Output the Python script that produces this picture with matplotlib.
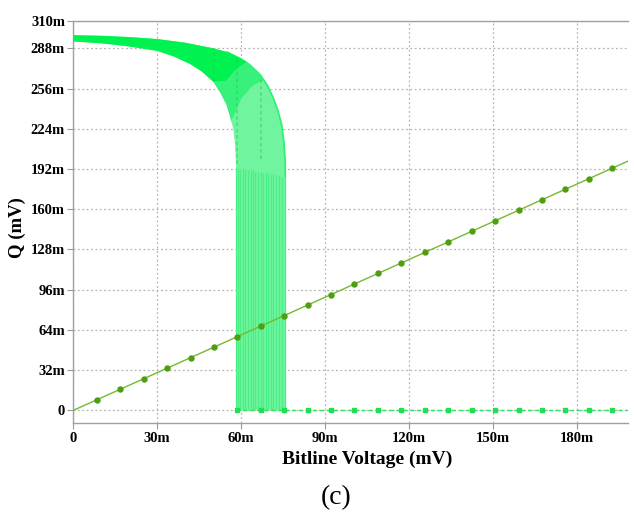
import numpy as np
import matplotlib.pyplot as plt

# all values in mV (labels use the "m" suffix like the simulator)
x_ticks = [0, 30, 60, 90, 120, 150, 180]
y_ticks = [0, 32, 64, 96, 128, 160, 192, 224, 256, 288, 310]

# diagonal sweep Q = Vbl, markers every ~8.4 mV
diag_v = [0, 8.4, 16.8, 25.1, 33.5, 41.9, 50.3, 58.6, 67.0, 75.4, 83.8, 92.1,
          100.5, 108.9, 117.3, 125.6, 134.0, 142.4, 150.8, 159.2, 167.5, 175.9,
          184.3, 192.7]
diag_q = diag_v

# flipped cells sitting at 0 V
zero_v = [58.6, 67.0, 75.4, 83.8, 92.1, 100.5, 108.9, 117.3, 125.6, 134.0,
          142.4, 150.8, 159.2, 167.5, 175.9, 184.3, 192.7]

# Monte Carlo envelope
upper_v = [0, 10, 20, 30, 40, 49, 55, 59.6, 63, 66.8, 69.5, 71.5, 73.2, 74.5,
           75.3, 75.7, 75.8]
upper_q = [298.5, 298, 297, 295.4, 292.5, 288.5, 285, 280, 275, 267, 258, 248.5,
           238, 227, 213, 200, 186]
lower_v = [0, 10, 20, 30, 36, 41.8, 46, 50, 52.5, 54.8, 56, 57.2, 57.8, 58.1, 58.2]
lower_q = [293.5, 292, 289.5, 286, 281.5, 275.5, 269.5, 261.6, 253, 243, 234, 224,
           212, 200, 193]

# densely packed (saturated) part of the band
dense_v = [0, 10, 20, 30, 40, 49, 55, 59.6, 62, 58, 54.5, 50, 46, 41.8, 36, 30,
           20, 10, 0]
dense_q = [298.5, 298, 297, 295.4, 292.5, 288.5, 285, 280, 277.5, 271, 262,
           261.6, 269.5, 275.5, 281.5, 286, 289.5, 292, 293.5]

# half-packed transition zone
mid_v = [49, 55, 59.6, 63, 66.8, 68, 64, 60, 56.5, 56, 54.8, 52.5, 50, 46]
mid_q = [288.5, 285, 280, 275, 267, 263, 258, 248, 230, 234, 243, 253, 261.6, 269.5]

# switching points of the individual runs
drop_v = [58.2, 58.9, 59.6, 60.6, 61.4, 62.3, 63.4, 64.2, 65.0, 66.1, 67.0,
          67.8, 68.9, 69.7, 70.6, 71.5, 72.6, 73.5, 74.5, 75.7]
drop_top = [193, 193, 192, 192, 192, 191, 191, 191, 190, 190, 190, 189, 189,
            189, 188, 188, 187, 187, 186, 186]

# stacked markers show up as darker streaks
streak_v = [50.3, 58.6, 67.0]
streak_lo = [262, 196, 200]
streak_hi = [288, 281, 266]

plt.rcParams['font.family'] = ['Liberation Serif', 'DejaVu Serif']

fig = plt.figure(figsize=(6.34, 5.15), dpi=100)
ax = fig.add_axes([73.3 / 634, (515 - 423.3) / 515, (628 - 73.3) / 634, (423.3 - 20.7) / 515])

# band
poly_v = upper_v + [75.8, 58.2] + lower_v[::-1]
poly_q = upper_q + [0, 0] + lower_q[::-1]
ax.fill(poly_v, poly_q, color='#70f49f', lw=0, zorder=2)
ax.vlines(drop_v, 0, drop_top, color='#4cef86', lw=0.9, zorder=3)
ax.plot(upper_v[6:], upper_q[6:], color='#30f074', lw=1.3, zorder=3)
ax.fill(mid_v, mid_q, color='#38f17a', lw=0, zorder=3)
ax.fill(dense_v, dense_q, color='#00f250', lw=0, zorder=3)
ax.vlines(streak_v, streak_lo, streak_hi, color='#18d24c', lw=1.3, alpha=0.45,
          linestyles=(0, (2, 1.5)), zorder=4)

# zero line
ax.plot([58.2, 200], [0, 0], color='#2ee35e', lw=1.0, ls=(0, (3, 2)), zorder=4)
ax.plot(zero_v, [0] * len(zero_v), ls='none', marker='s', ms=3, color='#22dd55', zorder=5)

# diagonal
ax.plot([0, 200], [0, 200], color='#74ba30', lw=1.0, zorder=5)
ax.plot(diag_v[1:], diag_q[1:], ls='none', marker='o', ms=3.6, color='#4f9e12', zorder=6)

ax.set_xlim(0, 198.3)
ax.set_ylim(-10.3, 310)
ax.set_xticks(x_ticks)
ax.set_yticks(y_ticks)
ax.set_xticklabels([f'{v}m' if v else '0' for v in x_ticks])
ax.set_yticklabels([f'{v}m' if v else '0' for v in y_ticks])
for lab in ax.get_xticklabels() + ax.get_yticklabels():
    lab.set_fontweight('bold')
    lab.set_fontsize(10.5)

ax.grid(True, color='#b4b4b4', ls=(0, (1.5, 2)), lw=0.9, zorder=1)
ax.set_axisbelow(True)
ax.tick_params(axis='both', color='#999999', length=4, width=0.8, pad=2)
for side in ['left', 'bottom', 'top']:
    ax.spines[side].set_color('#a0a0a0')
    ax.spines[side].set_linewidth(1.0)
ax.spines['right'].set_visible(False)

ax.set_xlabel('Bitline Voltage (mV)', fontsize=14, fontweight='bold')
ax.xaxis.set_label_coords((367 - 73.3) / (628 - 73.3), -(451 - 423.3) / (423.3 - 20.7))
ax.set_ylabel('Q (mV)', fontsize=13.5, fontweight='bold')
ax.yaxis.set_label_coords(-(73.3 - 26) / (628 - 73.3), (423.3 - 228) / (423.3 - 20.7))

fig.text(336 / 634, 1 - 498 / 515, '(c)', fontsize=20, ha='center', va='center')

fig.savefig('out.png', dpi=100)
